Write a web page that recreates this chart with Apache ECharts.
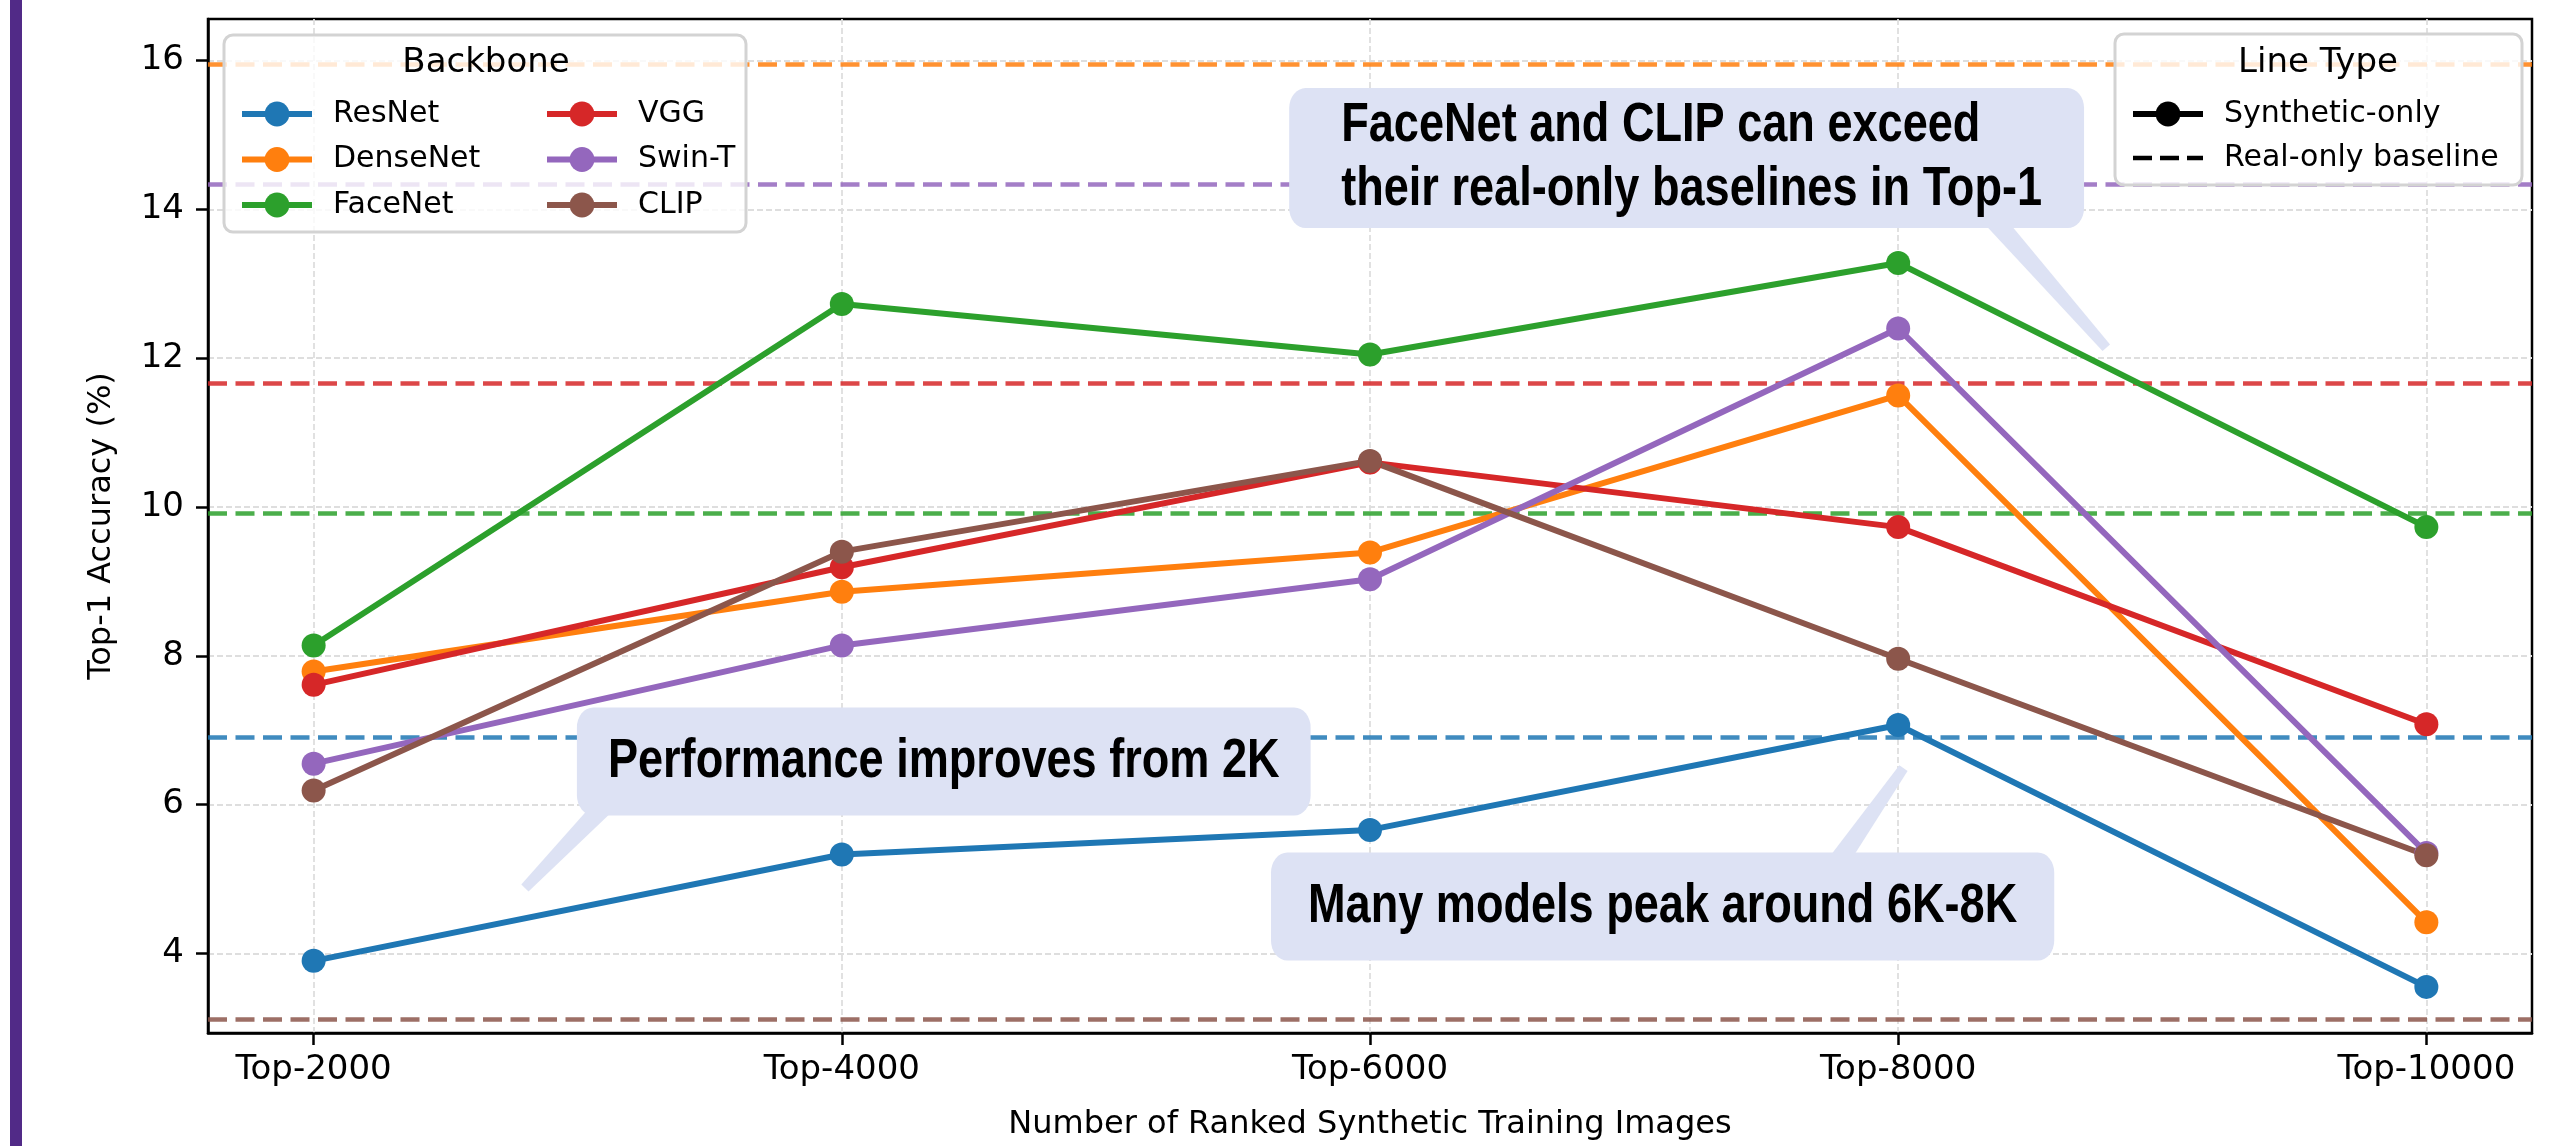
<!DOCTYPE html>
<html>
<head>
<meta charset="utf-8">
<script src="https://cdn.jsdelivr.net/npm/echarts@6/dist/echarts.min.js"></script>
<style>html,body{margin:0;padding:0;background:#fff;}#c{width:2556px;height:1146px;}</style>
</head>
<body>
<div id="c"></div>
<script>
const categories = ['Top-2000', 'Top-4000', 'Top-6000', 'Top-8000', 'Top-10000'];
const catIndex = [0, 1, 2, 3, 4];
const yTicks = [4, 6, 8, 10, 12, 14, 16];
const names = ['ResNet', 'DenseNet', 'FaceNet', 'VGG', 'Swin-T', 'CLIP'];
const colors = ['#1f77b4', '#ff7f0e', '#2ca02c', '#d62728', '#9467bd', '#8c564b'];
const resnet = [3.90, 5.33, 5.66, 7.07, 3.55];
const densenet = [7.79, 8.86, 9.39, 11.50, 4.42];
const facenet = [8.14, 12.73, 12.05, 13.28, 9.73];
const vgg = [7.61, 9.19, 10.60, 9.73, 7.08];
const swin = [6.55, 8.14, 9.03, 12.40, 5.35];
const clip = [6.19, 9.40, 10.62, 7.96, 5.32];
const baselines = [6.90, 15.95, 9.91, 11.67, 14.34, 3.11];
const seriesValues = [resnet, densenet, facenet, vgg, swin, clip];

const annotTexts = ['Performance improves from 2K', 'Many models peak around 6K-8K', 'FaceNet and CLIP can exceed\ntheir real-only baselines in Top-1'];
const annotAnchors = [[1.193, 6.58], [2.554, 4.63], [1.847, 14.69]];
const annotAlign = ['center', 'center', 'left'];
const arrowFrom = [[0.54, 5.91], [2.897, 5.34], [3.195, 13.75]];
const arrowTo = [[0.40, 4.88], [3.01, 6.49], [3.394, 12.14]];

const chart = echarts.init(document.getElementById('c'), null, {renderer: 'canvas'});
const tickFont = 'DejaVu Sans';

const dataSeries = names.map((n, i) => ({
  name: n, type: 'line', z: 2,
  data: seriesValues[i].map((v, j) => [catIndex[j], v]),
  symbol: 'circle', symbolSize: 24,
  itemStyle: {color: colors[i]},
  lineStyle: {width: 6, color: colors[i]},
  emphasis: {disabled: true},
  markLine: {
    silent: true, symbol: 'none', z: 1, animation: false,
    label: {show: false},
    lineStyle: {type: [19, 8.5], width: 4.5, color: colors[i], opacity: 0.85},
    emphasis: {disabled: true},
    data: [{yAxis: baselines[i]}]
  }
}));

const gridSeries = {
  name: '_grid', type: 'line', data: [], z: 0, silent: true,
  markLine: {
    silent: true, symbol: 'none', z: 0, animation: false,
    label: {show: false},
    lineStyle: {type: [6, 3], width: 1.8, color: '#dedede'},
    emphasis: {disabled: true},
    data: catIndex.map(v => ({xAxis: v})).concat(yTicks.map(v => ({yAxis: v})))
  }
};

const typeSeries = [
  {name: 'Synthetic-only', type: 'line', data: [], symbol: 'circle', symbolSize: 24,
   itemStyle: {color: '#000'}, lineStyle: {width: 6, color: '#000'}},
  {name: 'Real-only baseline', type: 'line', data: [], symbol: 'none',
   itemStyle: {color: '#000'}, lineStyle: {width: 4.5, color: '#000', type: [19, 8]}}
];

const legendCommon = {
  orient: 'vertical', top: 94, itemWidth: 70, itemHeight: 31, itemGap: 15.5,
  selectedMode: false, z: 4,
  lineStyle: {width: 6},
  textStyle: {fontSize: 30, fontFamily: tickFont, color: '#000', padding: [0, 0, 0, 16]}
};

const option = {
  animation: false,
  backgroundColor: '#fff',
  grid: {left: 208, right: 24, top: 19, bottom: 110, show: true, borderColor: '#000', borderWidth: 2.5, backgroundColor: 'transparent'},
  xAxis: {
    type: 'value', min: -0.2, max: 4.2,
    axisLine: {show: true, onZero: false, lineStyle: {color: '#000', width: 2.5}},
    axisTick: {show: true, customValues: catIndex, length: 12, lineStyle: {color: '#000', width: 2.5}},
    axisLabel: {customValues: catIndex, formatter: v => categories[Math.round(v)], fontSize: 34, fontFamily: tickFont, color: '#000', margin: 20},
    splitLine: {show: false},
    name: 'Number of Ranked Synthetic Training Images', nameLocation: 'middle', nameGap: 76,
    nameTextStyle: {fontSize: 32, fontFamily: tickFont, color: '#000'}
  },
  yAxis: {
    type: 'value', min: 2.93, max: 16.56,
    axisLine: {show: true, onZero: false, lineStyle: {color: '#000', width: 2.5}},
    axisTick: {show: true, customValues: yTicks, length: 12, lineStyle: {color: '#000', width: 2.5}},
    axisLabel: {customValues: yTicks, fontSize: 34, fontFamily: tickFont, color: '#000', margin: 24},
    splitLine: {show: false},
    name: 'Top-1 Accuracy (%)', nameLocation: 'middle', nameGap: 90,
    nameTextStyle: {fontSize: 32, fontFamily: tickFont, color: '#000'}
  },
  legend: [
    Object.assign({}, legendCommon, {left: 234, data: names.slice(0, 3)}),
    Object.assign({}, legendCommon, {left: 539, data: names.slice(3, 6)}),
    Object.assign({}, legendCommon, {left: 2125, itemGap: 14, data: [
      {name: 'Synthetic-only'},
      {name: 'Real-only baseline', itemStyle: {opacity: 0}, lineStyle: {width: 4.5, type: [19, 8]}}
    ]})
  ],
  series: [gridSeries].concat(dataSeries, typeSeries)
};
chart.setOption(option);

function fontExists(f) {
  const c = document.createElement('canvas').getContext('2d');
  const s = 'Performance improves from 2K';
  c.font = 'bold 50px monospace'; const w1 = c.measureText(s).width;
  c.font = 'bold 50px "' + f + '", monospace'; const w2 = c.measureText(s).width;
  return Math.abs(w1 - w2) > 1;
}
const narrow = fontExists('Liberation Sans Narrow');
const annFont = narrow ? 'bold 55px "Liberation Sans Narrow"' : 'bold 55px "Liberation Sans", Arial, sans-serif';
const sx = narrow ? 1 : 0.82;

const boxColor = '#dde2f4';
const graphics = [];
graphics.push({type: 'rect', z: 10, silent: true, shape: {x: 10, y: 0, width: 12, height: 1146}, style: {fill: '#512a87'}});
graphics.push({type: 'rect', z: 3, silent: true, shape: {x: 224, y: 35, width: 522, height: 197, r: 9}, style: {fill: 'rgba(255,255,255,0.8)', stroke: '#d3d3d3', lineWidth: 3}});
graphics.push({type: 'rect', z: 3, silent: true, shape: {x: 2115, y: 34, width: 407, height: 151, r: 9}, style: {fill: 'rgba(255,255,255,0.8)', stroke: '#d3d3d3', lineWidth: 3}});
graphics.push({type: 'text', z: 5, silent: true, style: {text: 'Backbone', x: 486, y: 63, font: '34px "DejaVu Sans"', fill: '#000', textAlign: 'center', verticalAlign: 'middle', textVerticalAlign: 'middle'}});
graphics.push({type: 'text', z: 5, silent: true, style: {text: 'Line Type', x: 2318, y: 63, font: '34px "DejaVu Sans"', fill: '#000', textAlign: 'center', verticalAlign: 'middle', textVerticalAlign: 'middle'}});

const padH = [31, 37];
for (let i = 0; i < annotTexts.length; i++) {
  const t = chart.convertToPixel({gridIndex: 0}, arrowTo[i]);
  const s0 = chart.convertToPixel({gridIndex: 0}, arrowFrom[i]);
  const s = [t[0] + (s0[0] - t[0]) * 1.12, t[1] + (s0[1] - t[1]) * 1.12];
  const dx = s[0] - t[0], dy = s[1] - t[1];
  const L = Math.sqrt(dx * dx + dy * dy);
  const px = -dy / L, py = dx / L;
  const ws = 10, wt = 5;
  graphics.push({type: 'polygon', z: 6, silent: true,
    shape: {points: [[s[0] + px * ws, s[1] + py * ws], [t[0] + px * wt, t[1] + py * wt], [t[0] - px * wt, t[1] - py * wt], [s[0] - px * ws, s[1] - py * ws]]},
    style: {fill: boxColor}});
  const a = chart.convertToPixel({gridIndex: 0}, annotAnchors[i]);
  const ph = padH[i] || 31;
  graphics.push({type: 'text', z: 7, silent: true, x: a[0], y: a[1], scaleX: sx, scaleY: 1,
    style: {text: annotTexts[i], x: 0, y: 0, font: annFont, fill: '#000',
      textAlign: annotAlign[i], verticalAlign: 'middle', textVerticalAlign: 'middle', lineHeight: 64,
      backgroundColor: boxColor, borderRadius: 20,
      padding: annotAlign[i] === 'left' ? [6, 42 / sx, 6, 52 / sx] : [22, ph / sx, 22, ph / sx]}});
}
chart.setOption({graphic: graphics});
</script>
</body>
</html>
